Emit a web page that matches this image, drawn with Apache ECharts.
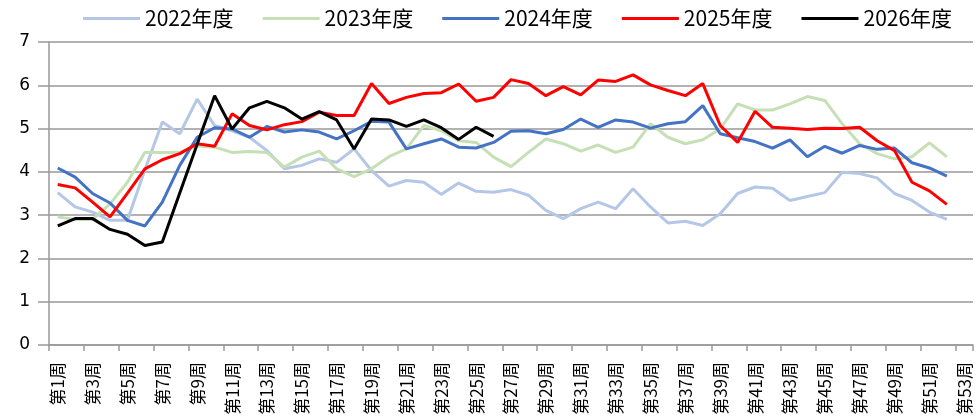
<!DOCTYPE html>
<html>
<head>
<meta charset="utf-8">
<script src="https://cdn.jsdelivr.net/npm/echarts@6/dist/echarts.min.js"></script>
<style>
  html, body { margin: 0; padding: 0; background: #ffffff; }
  #chart { width: 976px; height: 416px; }
</style>
</head>
<body>
<div id="chart"></div>
<script>
// categories: 第1周 ... 第53周
const weeks = [];
for (let i = 1; i <= 53; i++) weeks.push('第' + i + '周');

const seriesNames = ['2022年度', '2023年度', '2024年度', '2025年度', '2026年度'];
const seriesColors = ['#B4C7E7', '#C5E0B4', '#4472C4', '#FF0000', '#000000'];

const data2022 = [3.52, 3.19, 3.07, 2.88, 2.88, 4.05, 5.15, 4.88, 5.68, 5.07, 4.95, 4.80, 4.49, 4.07, 4.15, 4.30,
  4.22, 4.53, 4.03, 3.67, 3.80, 3.76, 3.48, 3.74, 3.55, 3.53, 3.59, 3.46, 3.11, 2.92, 3.15, 3.30, 3.15, 3.61, 3.19,
  2.82, 2.86, 2.76, 3.03, 3.50, 3.65, 3.62, 3.34, 3.43, 3.52, 3.99, 3.96, 3.86, 3.50, 3.34, 3.07, 2.90];
const data2023 = [2.96, 2.90, 2.90, 3.26, 3.76, 4.45, 4.45, 4.45, 4.60, 4.57, 4.45, 4.47, 4.45, 4.11, 4.34, 4.48,
  4.07, 3.89, 4.07, 4.35, 4.53, 5.07, 4.95, 4.72, 4.68, 4.34, 4.12, 4.45, 4.76, 4.65, 4.48, 4.62, 4.45, 4.57, 5.11,
  4.80, 4.65, 4.74, 4.99, 5.57, 5.43, 5.43, 5.57, 5.74, 5.65, 5.11, 4.65, 4.42, 4.30, 4.35, 4.67, 4.35];
const data2024 = [4.09, 3.88, 3.50, 3.28, 2.88, 2.75, 3.30, 4.15, 4.80, 5.02, 4.99, 4.80, 5.05, 4.92, 4.97, 4.92,
  4.76, 4.95, 5.17, 5.15, 4.53, 4.65, 4.76, 4.57, 4.55, 4.68, 4.94, 4.95, 4.88, 4.98, 5.22, 5.03, 5.20, 5.15, 5.01,
  5.11, 5.16, 5.53, 4.88, 4.79, 4.70, 4.55, 4.74, 4.35, 4.59, 4.43, 4.61, 4.52, 4.55, 4.21, 4.09, 3.90];
const data2025 = [3.71, 3.63, 3.30, 2.96, 3.51, 4.07, 4.28, 4.42, 4.65, 4.59, 5.34, 5.07, 4.97, 5.09, 5.16, 5.38,
  5.30, 5.30, 6.04, 5.58, 5.72, 5.81, 5.83, 6.03, 5.63, 5.72, 6.13, 6.04, 5.76, 5.97, 5.78, 6.12, 6.09, 6.24, 6.01,
  5.88, 5.76, 6.04, 5.07, 4.68, 5.40, 5.03, 5.01, 4.98, 5.01, 5.00, 5.03, 4.72, 4.49, 3.76, 3.56, 3.25];
const data2026 = [2.75, 2.92, 2.92, 2.67, 2.56, 2.30, 2.38, 3.51, 4.64, 5.76, 4.99, 5.48, 5.63, 5.48, 5.22, 5.39,
  5.20, 4.53, 5.22, 5.20, 5.05, 5.20, 5.02, 4.75, 5.03, 4.82];

const yTicks = [0, 1, 2, 3, 4, 5, 6, 7];

const seriesData = [data2022, data2023, data2024, data2025, data2026];

const chart = echarts.init(document.getElementById('chart'));

const option = {
    backgroundColor: '#ffffff',
    animation: false,
    color: seriesColors,
    legend: {
        top: 3,
        left: 78,
        icon: 'rect',
        itemWidth: 57,
        itemHeight: 3,
        itemGap: 29,
        textStyle: {
            fontFamily: 'Noto Sans CJK SC',
            fontSize: 21,
            color: '#000000'
        },
        data: seriesNames
    },
    grid: {
        left: 49,
        right: 3,
        top: 42,
        bottom: 71,
        containLabel: false,
        outerBoundsMode: 'none'
    },
    xAxis: {
        type: 'category',
        boundaryGap: true,
        data: weeks,
        axisLine: { lineStyle: { color: '#999999', width: 1.5 } },
        axisTick: { show: true, length: 6, lineStyle: { color: '#999999', width: 1.5 } },
        axisLabel: {
            interval: 1,
            rotate: 90,
            margin: 17,
            fontFamily: 'Noto Sans CJK SC',
            fontSize: 17,
            color: '#000000'
        },
        splitLine: { show: false }
    },
    yAxis: {
        type: 'value',
        min: yTicks[0],
        max: yTicks[yTicks.length - 1],
        interval: 1,
        axisLine: { show: true, lineStyle: { color: '#999999', width: 1.5 } },
        axisTick: { show: true, length: 11, lineStyle: { color: '#999999', width: 1.5 } },
        axisLabel: {
            margin: 19,
            fontFamily: 'DejaVu Sans',
            fontSize: 17,
            color: '#000000'
        },
        splitLine: { show: true, lineStyle: { color: '#999999', width: 1.5 } }
    },
    series: seriesNames.map((name, i) => ({
        name: name,
        type: 'line',
        data: seriesData[i],
        symbol: 'none',
        smooth: false,
        lineStyle: { width: 3, color: seriesColors[i] },
        itemStyle: { color: seriesColors[i] },
        z: 2 + i
    }))
};

chart.setOption(option);
</script>
</body>
</html>
